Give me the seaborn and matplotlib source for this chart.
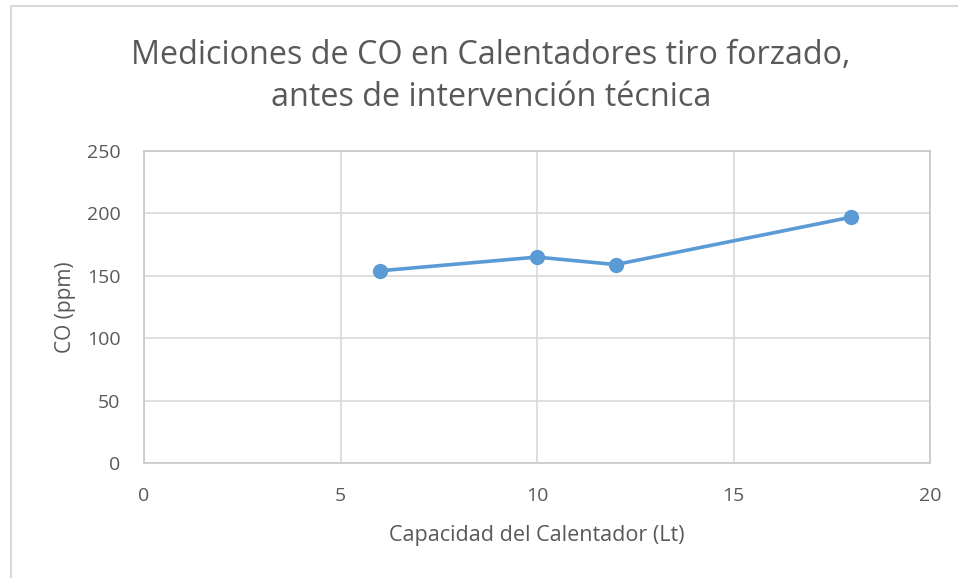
import matplotlib
matplotlib.use('Agg')
import matplotlib.pyplot as plt
import seaborn as sns
import pandas as pd
from matplotlib.patches import Rectangle

# data
capacidad = [6, 10, 12, 18]
co_ppm = [154, 165, 159, 197]
x_ticks = [0, 5, 10, 15, 20]
y_ticks = [0, 50, 100, 150, 200, 250]

sns.set_style("white")
plt.rcParams['font.family'] = ['Open Sans', 'DejaVu Sans']

text_color = '#595959'
grid_color = '#d9d9d9'
line_color = '#5b9bd5'

df = pd.DataFrame({'Capacidad': capacidad, 'CO': co_ppm})

fig = plt.figure(figsize=(9.58, 5.78), dpi=100)
ax = fig.add_axes([144 / 958, 1 - 463 / 578, (930 - 144) / 958, (463 - 151) / 578])

sns.lineplot(data=df, x='Capacidad', y='CO', ax=ax, color=line_color,
             linewidth=2.6, marker='o', markersize=11, markeredgewidth=0,
             zorder=3)

ax.set_xlim(0, 20)
ax.set_ylim(0, 250)
ax.set_xticks(x_ticks)
ax.set_yticks(y_ticks)
ax.grid(True, color=grid_color, linewidth=1.2)
ax.set_axisbelow(True)
for s in ax.spines.values():
    s.set_visible(True)
    s.set_color('#c8c8c8')
    s.set_linewidth(1.2)

ax.tick_params(axis='both', length=0, labelsize=14, colors=text_color)
ax.tick_params(axis='x', pad=17)
ax.tick_params(axis='y', pad=17)

ax.set_xlabel('Capacidad del Calentador (Lt)', fontsize=15.5, color=text_color, labelpad=15)
ax.set_ylabel('CO (ppm)', fontsize=15, color=text_color, labelpad=8)

fig.text(491 / 958, 1 - 55 / 578, 'Mediciones de CO en Calentadores tiro forzado,',
         ha='center', va='center', fontsize=23.3, color=text_color)
fig.text(491 / 958, 1 - 97 / 578, 'antes de intervención técnica',
         ha='center', va='center', fontsize=23.3, color=text_color)

# outer chart border (cropped at right/bottom)
fig.patches.append(Rectangle((11 / 958, -0.05), 1.2, 1 - 6 / 578 + 0.05,
                             transform=fig.transFigure, fill=False,
                             edgecolor='#d9d9d9', linewidth=1.5))

fig.savefig('out.png', dpi=100)
